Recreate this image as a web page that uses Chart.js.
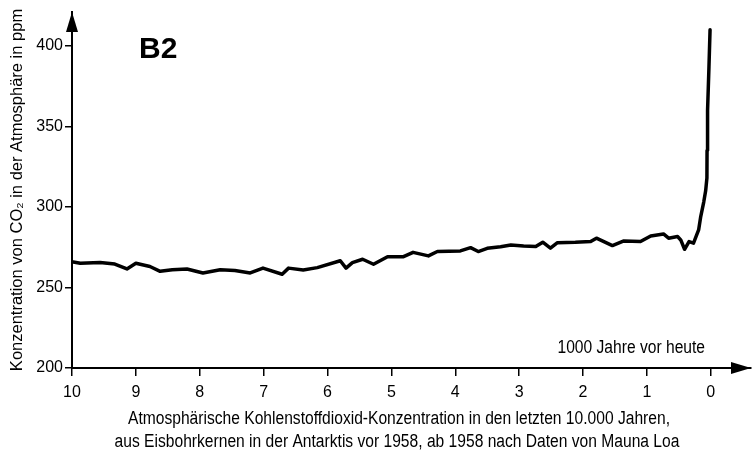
<!DOCTYPE html>
<html>
<head>
<meta charset="utf-8">
<script src="https://cdn.jsdelivr.net/npm/chart.js@4/dist/chart.umd.min.js"></script>
<style>
  html, body { margin: 0; padding: 0; background: #fff; }
  #wrap { width: 752px; height: 457px; }
</style>
</head>
<body>
<div id="wrap"><canvas id="co2Chart"></canvas></div>
<script>
// thousand years before present
const years = [9.98, 9.87, 9.56, 9.33, 9.14, 9.00, 8.78, 8.62, 8.43, 8.20, 7.95, 7.68, 7.45, 7.21, 7.01,
  6.71, 6.61, 6.38, 6.16, 5.80, 5.71, 5.61, 5.45, 5.28, 5.06, 4.81, 4.66, 4.42, 4.28, 3.92, 3.76,
  3.64, 3.50, 3.29, 3.13, 2.93, 2.74, 2.63, 2.51, 2.40, 2.12, 1.88, 1.79, 1.54, 1.36, 1.10, 0.94,
  0.74, 0.66, 0.52, 0.47, 0.41, 0.34, 0.27, 0.19, 0.157, 0.11, 0.08, 0.06, 0.058, 0.05, 0.028, 0.011];
// CO2 in ppm
const co2 = [265.8, 265, 265.5, 264.5, 261.5, 265, 263, 260, 261, 261.5, 259, 261, 260.5, 259, 262,
  258.2, 262, 260.9, 262.3, 266.6, 262, 265.4, 267.5, 264.4, 269.1, 269.1, 271.8, 269.6, 272.3, 272.7, 274.7,
  272.3, 274.3, 275.3, 276.4, 275.8, 275.4, 278.1, 274.4, 277.8, 278, 278.5, 280.6, 276, 278.9, 278.5, 282,
  283.2, 280.6, 281.6, 279.5, 273.7, 278.5, 277.5, 285.7, 294, 303, 310, 318, 335, 360, 387, 410];

const xTicks = [10, 9, 8, 7, 6, 5, 4, 3, 2, 1, 0];
const yTicks = [200, 250, 300, 350, 400];

const yTitle = "Konzentration von CO\u2082 in der Atmosph\u00e4re in ppm";
const panelLabel = "B2";
const xNote = "1000 Jahre vor heute";
const caption = [
  "Atmosph\u00e4rische Kohlenstoffdioxid-Konzentration in den letzten 10.000 Jahren,",
  "aus Eisbohrkernen in der Antarktis vor 1958, ab 1958 nach Daten von Mauna Loa"
];

const FONT = "'Liberation Sans', Arial, sans-serif";
const NARROW = 0.867; // squeeze to look like Arial Narrow

function narrowText(ctx, txt, x, y, align) {
  ctx.save();
  ctx.translate(x, y);
  ctx.scale(NARROW, 1);
  ctx.textAlign = align;
  ctx.fillText(txt, 0, 0);
  ctx.restore();
}

const extras = {
  id: "extras",
  afterDraw(chart) {
    const ctx = chart.ctx;
    const a = chart.chartArea;
    const xs = chart.scales.x;
    const ys = chart.scales.y;
    const x0 = xs.getPixelForValue(10);
    const yb = ys.getPixelForValue(200);
    ctx.save();
    ctx.fillStyle = "#000";
    // arrow heads
    ctx.beginPath();
    ctx.moveTo(x0, a.top);
    ctx.lineTo(x0 - 6, a.top + 20);
    ctx.lineTo(x0 + 6, a.top + 20);
    ctx.closePath();
    ctx.fill();
    ctx.beginPath();
    ctx.moveTo(a.right, yb);
    ctx.lineTo(a.right - 20, yb - 6);
    ctx.lineTo(a.right - 20, yb + 6);
    ctx.closePath();
    ctx.fill();
    // texts
    ctx.textBaseline = "alphabetic";
    ctx.font = "bold 30px " + FONT;
    ctx.textAlign = "left";
    ctx.fillText(panelLabel, 139, 58);
    ctx.font = "18px " + FONT;
    narrowText(ctx, xNote, 705, 353, "right");
    narrowText(ctx, caption[0], 399, 424, "center");
    narrowText(ctx, caption[1], 397, 447, "center");
    ctx.restore();
  }
};

const ctx = document.getElementById("co2Chart").getContext("2d");
const co2Chart = new Chart(ctx, {
  type: "line",
  data: {
    datasets: [{
      data: years.map((y, i) => ({ x: y, y: co2[i] })),
      borderColor: "#000",
      borderWidth: 3.5,
      pointRadius: 0,
      tension: 0,
      borderJoinStyle: "round",
      borderCapStyle: "round"
    }]
  },
  options: {
    responsive: true,
    maintainAspectRatio: false,
    animation: false,
    layout: { padding: { top: 12, right: 1, bottom: 0, left: 0 } },
    plugins: { legend: { display: false }, tooltip: { enabled: false } },
    scales: {
      x: {
        type: "linear",
        reverse: true,
        min: -0.63,
        max: 10,
        afterBuildTicks: (scale) => { scale.ticks = xTicks.map(v => ({ value: v })); },
        afterFit: (scale) => { scale.height = 89; },
        grid: { drawOnChartArea: false, drawTicks: true, tickLength: 8, color: "#000", lineWidth: 1.5 },
        border: { display: true, color: "#000", width: 2 },
        ticks: { color: "#000", padding: 7, font: { family: FONT, size: 16 }, maxRotation: 0 }
      },
      y: {
        min: 200,
        max: 421,
        afterBuildTicks: (scale) => { scale.ticks = yTicks.map(v => ({ value: v })); },
        afterFit: (scale) => { scale.width = 72; },
        grid: { drawOnChartArea: false, drawTicks: true, tickLength: 7, color: "#000", lineWidth: 1.5 },
        border: { display: true, color: "#000", width: 2 },
        ticks: { color: "#000", padding: 2, font: { family: FONT, size: 16 } },
        title: {
          display: true,
          text: yTitle,
          color: "#000",
          font: { family: FONT, size: 16.5 },
          padding: { top: 8, bottom: 0 }
        }
      }
    }
  },
  plugins: [extras]
});
</script>
</body>
</html>
